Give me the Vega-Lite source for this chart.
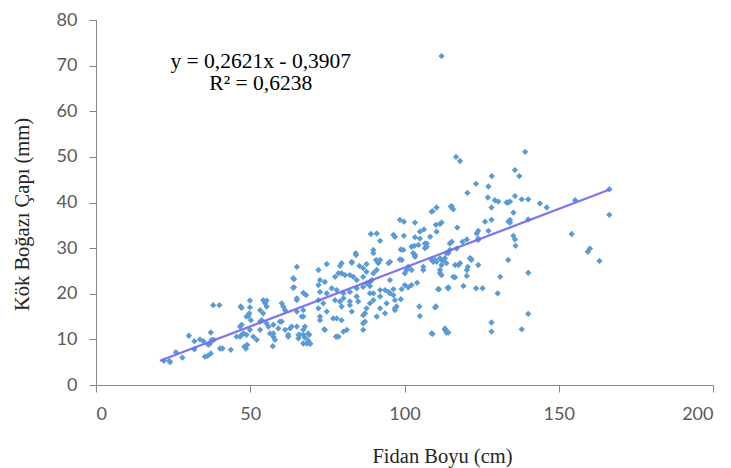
{
  "$schema": "https://vega.github.io/schema/vega-lite/v6.json",
  "width": 617,
  "height": 365,
  "autosize": {"type": "none"},
  "padding": {"left": 96, "top": 20, "right": 18, "bottom": 83},
  "background": "white",
  "config": {
    "view": {"stroke": null},
    "axis": {
      "grid": false,
      "labelFont": "Lato",
      "labelFontSize": 18,
      "labelColor": "#595959",
      "domainColor": "#868686",
      "tickColor": "#868686",
      "tickSize": 7,
      "titleFont": "Liberation Serif",
      "titleFontSize": 20.5,
      "titleFontWeight": "normal",
      "titleColor": "#262626"
    }
  },
  "datasets": {
    "pts": [
      {"boy":22.0,"cap":5.3},{"boy":23.8,"cap":5.3},{"boy":24.0,"cap":5.0},{"boy":25.9,"cap":7.2},{"boy":28.0,"cap":6.0},
      {"boy":30.1,"cap":10.8},{"boy":31.9,"cap":9.6},{"boy":31.9,"cap":7.8},{"boy":33.7,"cap":10.0},{"boy":34.8,"cap":9.6},
      {"boy":35.3,"cap":6.2},{"boy":36.2,"cap":6.4},{"boy":36.4,"cap":8.8},{"boy":37.2,"cap":11.5},{"boy":37.2,"cap":6.9},
      {"boy":37.0,"cap":9.1},{"boy":37.5,"cap":9.9},{"boy":38.0,"cap":17.5},{"boy":40.0,"cap":17.5},{"boy":38.2,"cap":9.9},
      {"boy":40.2,"cap":8.0},{"boy":41.0,"cap":8.0},{"boy":43.7,"cap":7.7},{"boy":46.7,"cap":10.6},{"boy":46.9,"cap":17.2},
      {"boy":47.2,"cap":13.2},{"boy":47.2,"cap":16.9},{"boy":48.1,"cap":8.4},{"boy":48.6,"cap":8.0},{"boy":49.0,"cap":8.8},
      {"boy":49.9,"cap":18.5},{"boy":49.9,"cap":17.0},{"boy":49.4,"cap":15.1},{"boy":50.2,"cap":14.2},{"boy":47.2,"cap":11.0},
      {"boy":49.7,"cap":15.7},{"boy":48.8,"cap":15.0},{"boy":46.7,"cap":12.8},{"boy":45.6,"cap":10.6},{"boy":47.8,"cap":11.3},
      {"boy":48.8,"cap":11.0},{"boy":49.9,"cap":12.1},{"boy":51.0,"cap":10.6},{"boy":52.1,"cap":9.9},{"boy":53.2,"cap":12.1},
      {"boy":53.2,"cap":16.4},{"boy":54.2,"cap":18.6},{"boy":55.3,"cap":18.5},{"boy":54.8,"cap":17.9},{"boy":55.3,"cap":17.2},
      {"boy":54.2,"cap":15.7},{"boy":53.2,"cap":13.9},{"boy":53.7,"cap":14.2},{"boy":55.3,"cap":13.5},{"boy":55.9,"cap":12.8},
      {"boy":56.4,"cap":11.3},{"boy":57.5,"cap":10.6},{"boy":57.3,"cap":8.5},{"boy":59.1,"cap":12.4},{"boy":60.2,"cap":17.9},
      {"boy":60.7,"cap":17.2},{"boy":60.2,"cap":13.9},{"boy":61.3,"cap":12.1},{"boy":62.3,"cap":10.6},
      {"boy":65.1,"cap":25.9},{"boy":64.2,"cap":23.2},{"boy":63.9,"cap":21.3},{"boy":67.2,"cap":20.2},{"boy":68.1,"cap":19.7},
      {"boy":65.1,"cap":18.6},{"boy":61.3,"cap":16.4},{"boy":65.1,"cap":16.1},{"boy":67.2,"cap":15.0},{"boy":59.6,"cap":13.9},
      {"boy":62.9,"cap":12.4},{"boy":65.1,"cap":12.8},{"boy":67.2,"cap":12.1},{"boy":66.1,"cap":11.0},{"boy":67.7,"cap":10.4},
      {"boy":68.8,"cap":11.3},{"boy":69.4,"cap":9.1},{"boy":68.8,"cap":9.7},{"boy":72.1,"cap":25.2},{"boy":74.8,"cap":26.5},
      {"boy":79.1,"cap":26.1},{"boy":79.6,"cap":24.5},{"boy":82.9,"cap":26.8},{"boy":84.3,"cap":28.5},{"boy":85.4,"cap":26.1},
      {"boy":87.7,"cap":26.5},{"boy":89.9,"cap":28.9},{"boy":90.8,"cap":27.4},{"boy":94.8,"cap":26.7},{"boy":72.6,"cap":23.0},
      {"boy":72.1,"cap":21.9},{"boy":74.2,"cap":22.6},{"boy":77.5,"cap":23.7},{"boy":78.6,"cap":24.5},{"boy":80.7,"cap":24.1},
      {"boy":82.3,"cap":24.1},{"boy":84.5,"cap":23.0},{"boy":87.7,"cap":24.8},{"boy":91.0,"cap":25.2},{"boy":88.8,"cap":22.6},
      {"boy":87.7,"cap":22.3},{"boy":72.6,"cap":20.4},{"boy":74.8,"cap":20.1},{"boy":76.4,"cap":21.2},{"boy":78.0,"cap":20.8},
      {"boy":80.2,"cap":20.1},{"boy":82.3,"cap":20.4},{"boy":84.5,"cap":21.2},{"boy":86.6,"cap":21.5},{"boy":88.8,"cap":20.1},
      {"boy":92.1,"cap":20.8},{"boy":72.1,"cap":18.6},{"boy":73.7,"cap":17.9},{"boy":72.1,"cap":16.8},{"boy":72.6,"cap":15.0},
      {"boy":72.6,"cap":14.2},{"boy":74.8,"cap":16.1},{"boy":77.5,"cap":18.6},{"boy":79.1,"cap":18.3},{"boy":80.2,"cap":19.0},
      {"boy":79.6,"cap":17.2},{"boy":82.3,"cap":17.5},{"boy":85.0,"cap":18.3},{"boy":82.9,"cap":16.1},{"boy":76.9,"cap":14.6},
      {"boy":78.0,"cap":14.6},{"boy":79.6,"cap":14.2},{"boy":74.2,"cap":12.1},{"boy":78.6,"cap":10.6},{"boy":81.3,"cap":12.1},
      {"boy":86.6,"cap":15.3},{"boy":87.2,"cap":13.9},{"boy":86.6,"cap":12.1},{"boy":87.7,"cap":16.8},{"boy":88.8,"cap":17.9},
      {"boy":89.9,"cap":18.6},{"boy":92.1,"cap":19.4},{"boy":94.2,"cap":17.9},{"boy":95.3,"cap":20.1},{"boy":96.9,"cap":18.6},
      {"boy":96.9,"cap":16.4},{"boy":93.7,"cap":15.7},{"boy":91.0,"cap":15.0},{"boy":57.5,"cap":13.2},{"boy":57.5,"cap":11.3},
      {"boy":58.0,"cap":9.9},{"boy":65.6,"cap":10.2},{"boy":69.4,"cap":9.0},{"boy":67.2,"cap":9.1},
      {"boy":98.5,"cap":36.2},{"boy":99.8,"cap":35.8},{"boy":103.4,"cap":35.6},{"boy":108.8,"cap":38.0},{"boy":110.4,"cap":38.9},
      {"boy":115.0,"cap":39.1},{"boy":110.2,"cap":35.1},{"boy":111.5,"cap":35.3},{"boy":89.1,"cap":33.1},{"boy":91.0,"cap":33.2},
      {"boy":92.1,"cap":31.6},{"boy":96.4,"cap":32.9},{"boy":96.9,"cap":32.5},{"boy":99.8,"cap":32.7},{"boy":103.4,"cap":32.4},
      {"boy":105.0,"cap":33.6},{"boy":108.3,"cap":32.5},{"boy":106.6,"cap":31.0},{"boy":104.5,"cap":30.7},{"boy":102.3,"cap":30.3},
      {"boy":98.8,"cap":29.7},{"boy":107.2,"cap":30.3},{"boy":114.7,"cap":31.0},{"boy":89.9,"cap":29.6},{"boy":92.1,"cap":27.4},
      {"boy":91.5,"cap":26.7},{"boy":95.3,"cap":27.0},{"boy":98.5,"cap":27.5},{"boy":99.1,"cap":27.4},{"boy":102.8,"cap":28.9},
      {"boy":103.4,"cap":28.1},{"boy":108.8,"cap":27.4},{"boy":110.4,"cap":27.0},{"boy":112.0,"cap":27.4},{"boy":113.1,"cap":27.8},
      {"boy":113.6,"cap":26.7},{"boy":114.2,"cap":28.9},{"boy":116.9,"cap":29.9},{"boy":116.4,"cap":26.3},{"boy":101.2,"cap":25.9},
      {"boy":100.7,"cap":25.2},{"boy":100.1,"cap":24.5},{"boy":102.3,"cap":25.2},{"boy":106.1,"cap":25.9},{"boy":111.5,"cap":25.2},
      {"boy":111.5,"cap":24.5},{"boy":115.8,"cap":23.7},{"boy":114.2,"cap":21.4},{"boy":110.9,"cap":21.0},{"boy":104.1,"cap":22.4},
      {"boy":101.2,"cap":21.4},{"boy":102.3,"cap":21.9},{"boy":104.8,"cap":17.2},{"boy":110.2,"cap":17.2},{"boy":108.8,"cap":11.3},
      {"boy":113.1,"cap":12.4},{"boy":113.6,"cap":11.5},{"boy":98.8,"cap":18.8},{"boy":97.4,"cap":17.2},{"boy":96.9,"cap":16.8},
      {"boy":93.7,"cap":20.8},{"boy":94.8,"cap":20.4},{"boy":96.4,"cap":21.0},{"boy":99.1,"cap":21.0},{"boy":100.1,"cap":21.9},
      {"boy":78.0,"cap":10.6},{"boy":80.2,"cap":11.7},{"boy":86.6,"cap":13.5},{"boy":87.2,"cap":15.7},{"boy":92.1,"cap":16.8},
      {"boy":82.3,"cap":18.3},{"boy":84.5,"cap":19.4},{"boy":83.4,"cap":23.7},{"boy":84.2,"cap":28.9},{"boy":82.9,"cap":27.0},
      {"boy":79.6,"cap":26.7},{"boy":86.6,"cap":25.6},{"boy":86.6,"cap":23.7},{"boy":89.9,"cap":24.5},{"boy":89.4,"cap":23.0},
      {"boy":88.8,"cap":21.7},{"boy":89.9,"cap":20.1},{"boy":95.3,"cap":23.0},{"boy":96.4,"cap":19.7},
      {"boy":116.7,"cap":50.0},{"boy":118.0,"cap":49.1},{"boy":128.3,"cap":45.8},{"boy":123.2,"cap":44.1},{"boy":120.4,"cap":42.1},
      {"boy":127.2,"cap":43.5},{"boy":135.8,"cap":47.1},{"boy":137.2,"cap":45.8},{"boy":127.0,"cap":41.1},{"boy":129.3,"cap":40.5},
      {"boy":130.4,"cap":40.2},{"boy":133.6,"cap":40.0},{"boy":135.8,"cap":41.4},{"boy":138.0,"cap":40.7},{"boy":140.1,"cap":40.7},
      {"boy":134.2,"cap":40.2},{"boy":115.3,"cap":39.2},{"boy":115.8,"cap":38.5},{"boy":109.1,"cap":38.1},{"boy":128.2,"cap":38.9},
      {"boy":135.3,"cap":37.8},{"boy":112.0,"cap":35.6},{"boy":126.1,"cap":35.8},{"boy":128.2,"cap":36.2},{"boy":134.2,"cap":35.6},
      {"boy":106.3,"cap":34.1},{"boy":110.4,"cap":33.6},{"boy":117.1,"cap":34.5},{"boy":123.9,"cap":33.8},{"boy":123.4,"cap":33.2},
      {"boy":127.2,"cap":33.8},{"boy":135.3,"cap":32.7},{"boy":135.8,"cap":31.9},{"boy":136.0,"cap":30.5},{"boy":105.0,"cap":32.1},
      {"boy":107.2,"cap":31.0},{"boy":106.6,"cap":30.0},{"boy":103.2,"cap":30.5},{"boy":103.4,"cap":28.5},{"boy":99.6,"cap":29.6},
      {"boy":115.3,"cap":31.4},{"boy":120.2,"cap":31.9},{"boy":118.8,"cap":31.4},{"boy":123.9,"cap":32.1},{"boy":114.7,"cap":29.6},
      {"boy":113.6,"cap":28.9},{"boy":111.5,"cap":27.8},{"boy":109.9,"cap":27.4},{"boy":112.6,"cap":27.4},{"boy":121.2,"cap":27.8},
      {"boy":121.7,"cap":27.4},{"boy":117.5,"cap":26.3},{"boy":118.0,"cap":26.7},{"boy":123.9,"cap":26.3},{"boy":133.6,"cap":27.4},
      {"boy":140.1,"cap":24.6},{"boy":106.1,"cap":25.2},{"boy":109.3,"cap":27.0},{"boy":112.0,"cap":26.3},{"boy":112.0,"cap":24.1},
      {"boy":116.4,"cap":23.6},{"boy":120.2,"cap":25.2},{"boy":120.2,"cap":23.9},{"boy":119.1,"cap":21.7},{"boy":123.2,"cap":21.2},
      {"boy":125.3,"cap":21.2},{"boy":131.0,"cap":23.7},{"boy":130.2,"cap":20.1},{"boy":114.2,"cap":21.2},{"boy":111.2,"cap":21.0},
      {"boy":109.9,"cap":17.0},{"boy":105.0,"cap":15.1},{"boy":109.1,"cap":11.2},{"boy":113.1,"cap":12.1},{"boy":114.2,"cap":11.5},
      {"boy":128.2,"cap":13.7},{"boy":128.2,"cap":11.7},{"boy":138.0,"cap":12.2},{"boy":140.1,"cap":15.6},
      {"boy":112.0,"cap":72.1},{"boy":139.1,"cap":51.1},{"boy":166.4,"cap":42.9},{"boy":166.4,"cap":37.3},{"boy":155.3,"cap":40.5},
      {"boy":143.9,"cap":39.8},{"boy":146.1,"cap":38.9},{"boy":154.2,"cap":33.1},{"boy":159.4,"cap":29.2},{"boy":160.1,"cap":29.9},
      {"boy":163.2,"cap":27.2},{"boy":140.1,"cap":36.3},{"boy":120.5,"cap":25.9},{"boy":121.5,"cap":27.7},{"boy":133.7,"cap":35.8},
      {"boy":123.9,"cap":31.8},{"boy":133.1,"cap":40.0},{"boy":134.2,"cap":36.2},{"boy":114.0,"cap":21.3},
      {"boy":62.3,"cap":11.0},{"boy":63.4,"cap":12.8},{"boy":65.6,"cap":11.0},{"boy":67.2,"cap":11.0},{"boy":68.3,"cap":9.1},
      {"boy":69.1,"cap":11.0},{"boy":67.7,"cap":12.8},{"boy":63.9,"cap":23.4},{"boy":64.2,"cap":21.4},{"boy":65.1,"cap":19.0},
      {"boy":66.7,"cap":15.0},{"boy":67.2,"cap":16.4},{"boy":74.0,"cap":12.2},{"boy":77.8,"cap":10.6}
    ],
    "trend": [
      {"boy":20.7,"cap":5.3},
      {"boy":166.3,"cap":42.8}
    ],
    "eq": [
      {"boy":53.4,"cap":70.8,"t":"y = 0,2621x - 0,3907"},
      {"boy":53.4,"cap":66.0,"t":"R² = 0,6238"}
    ]
  },
  "layer": [
    {
      "data": {"name": "pts"},
      "mark": {"type": "point", "shape": "diamond", "filled": true, "size": 40, "color": "#5B9BD5", "opacity": 1},
      "encoding": {
        "x": {"field": "boy", "type": "quantitative", "scale": {"domain": [0, 200]},
              "axis": {"values": [0, 50, 100, 150, 200], "title": "Fidan Boyu (cm)", "labelPadding": 13, "titleX": 346, "titleY": 71, "titleBaseline": "middle"}},
        "y": {"field": "cap", "type": "quantitative", "scale": {"domain": [0, 80]},
              "axis": {"values": [0, 10, 20, 30, 40, 50, 60, 70, 80], "title": "Kök Boğazı Çapı (mm)", "labelPadding": 12, "titleX": -74, "titleY": 194, "titleBaseline": "middle"}}
      }
    },
    {
      "data": {"name": "trend"},
      "mark": {"type": "line", "color": "#7466F0", "strokeWidth": 2.2, "opacity": 0.9},
      "encoding": {
        "x": {"field": "boy", "type": "quantitative"},
        "y": {"field": "cap", "type": "quantitative"}
      }
    },
    {
      "data": {"name": "eq"},
      "mark": {"type": "text", "font": "Liberation Serif", "fontSize": 21.5, "color": "#000000", "align": "center", "baseline": "middle"},
      "encoding": {
        "x": {"field": "boy", "type": "quantitative"},
        "y": {"field": "cap", "type": "quantitative"},
        "text": {"field": "t"}
      }
    }
  ]
}
